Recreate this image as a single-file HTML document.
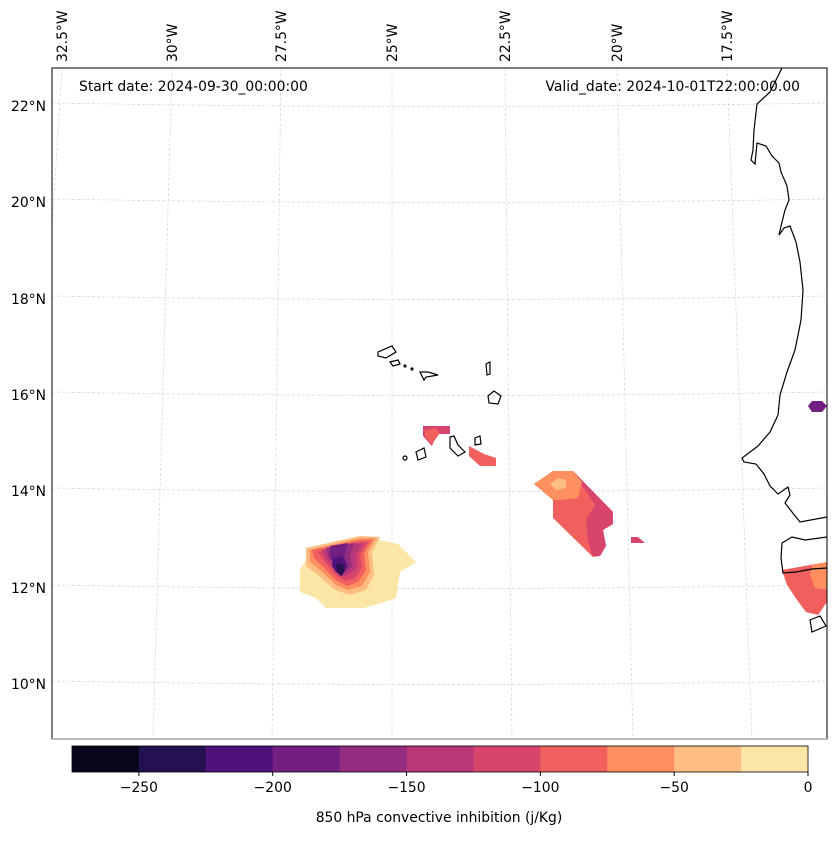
<!DOCTYPE html>
<html><head><meta charset="utf-8">
<style>
body{margin:0;background:#fff;}
svg text{font-family:"DejaVu Sans","Liberation Sans",sans-serif;}
</style></head>
<body>
<svg id="chart" width="837" height="836" viewBox="0 0 837 836" xmlns="http://www.w3.org/2000/svg">
<defs><clipPath id="mapclip"><rect x="52" y="68" width="775" height="671"/></clipPath></defs>
<rect width="837" height="836" fill="#fff"/>
<g id="grid" stroke="#d4d4d4" stroke-width="0.7" stroke-dasharray="3,2" fill="none" clip-path="url(#mapclip)"></g>
<g id="fills">
  <polygon fill="#fce6a6" points="306,548 360,536 398,544 416,562 400,572 396,598 378,604 364,608 326,608 316,598 300,592 300,570 306,560"/>
  <polygon fill="#febd82" points="306,548 360,536 380,537 372,552 374,575 366,590 350,595 335,590 318,575 306,566"/>
  <polygon fill="#fe8f5f" points="309,550 360,538 376,538 368,552 370,572 362,586 348,590 336,585 320,570 310,562"/>
  <polygon fill="#f1605d" points="312,550 360,540 372,540 364,553 366,570 358,582 347,586 336,580 322,566 314,558"/>
  <polygon fill="#d8456c" points="318,552 360,542 368,542 360,555 362,568 355,578 346,581 336,575 325,562"/>
  <polygon fill="#b73779" points="322,550 358,543 362,545 356,556 357,567 350,574 344,576 334,568 326,558"/>
  <polygon fill="#942c80" points="326,548 354,543 350,556 352,566 346,572 336,566 328,556"/>
  <polygon fill="#721f81" points="330,546 348,543 344,556 348,566 342,572 334,564 330,556"/>
  <polygon fill="#4f127b" points="333,558 342,556 347,566 342,576 336,572 332,566"/>
  <polygon fill="#231151" points="336,564 342,564 345,570 341,576 337,572"/>
  <polygon fill="#d8456c" points="423,426 450,426 450,434 437,434 432,446 423,436"/>
  <polygon fill="#f1605d" points="425,430 436,428 440,433 432,444 425,436"/>
  <polygon fill="#f1605d" points="469,446 484,454 496,458 496,466 480,466 469,456"/>
  <polygon fill="#f1605d" points="534,484 553,471 573,471 613,512 613,524 603,530 606,546 600,556 593,557 553,518 553,500"/>
  <polygon fill="#d8456c" points="573,471 613,512 613,524 603,530 606,546 600,556 592,556 588,540 586,520 595,505 580,482"/>
  <polygon fill="#fe8f5f" points="534,484 553,471 573,471 582,482 578,498 560,500 553,500"/>
  <polygon fill="#febd82" points="550,484 558,478 566,480 566,488 556,490"/>
  <polygon fill="#d8456c" points="631,537 638,537 645,543 631,543"/>
  <polygon fill="#721f81" points="808,406 812,401 822,401 827,406 822,412 812,412"/>
  <polygon fill="#f1605d" points="782,570 827,562 827,602 818,615 806,612 797,600 787,585"/>
  <polygon fill="#fe8f5f" points="812,565 827,562 827,590 815,588 810,575"/>
</g>
<g id="coast" fill="none" stroke="#000" stroke-width="1.2">
  <path d="M782,68 L770,92 L757,104 L754,130 L753,150 L751,160 L755,164 L757,143 L766,146 L772,156 L779,163 L781,172 L787,186 L789,200 L785,210 L782,222 L779,235 L784,228 L790,226 L796,242 L800,262 L803,290 L801,320 L795,350 L787,372 L780,395 L778,415 L770,432 L758,446 L742,458 L744,462 L756,464 L764,474 L770,486 L778,494 L788,487 L790,495 L785,503 L792,512 L800,522 L827,517"/>
  <path d="M827,537 L805,540 L792,537 L782,543 L781,558 L783,573 L796,572 L812,569 L827,568"/>
  <path d="M810,620 L820,616 L826,626 L812,632 Z"/>
  <path d="M378,352 L392,346 L396,352 L386,358 L378,356 Z"/>
  <path d="M390,362 L398,360 L400,364 L393,366 Z"/>
  <path d="M420,372 L428,372 L438,375 L426,377 L424,380 Z"/>
  <path d="M486,364 L490,362 L490,374 L487,375 Z"/>
  <path d="M488,396 L494,391 L501,396 L498,404 L489,403 Z"/>
  <path d="M450,437 L454,436 L458,445 L465,452 L458,456 L450,448 Z"/>
  <path d="M475,438 L480,436 L481,444 L475,445 Z"/>
  <path d="M416,452 L424,448 L426,457 L418,460 Z"/>
  <circle cx="405" cy="458" r="2"/>
  <circle cx="405" cy="366" r="1"/><circle cx="412" cy="369" r="1"/>
</g>
<rect x="52" y="68" width="775" height="671" fill="none" stroke="#000" stroke-width="1"/>
<rect x="52" y="738" width="775" height="2" fill="#bbb"/>
<text x="79" y="91" font-size="13.9">Start date: 2024-09-30_00:00:00</text>
<text x="800" y="91" font-size="13.9" text-anchor="end">Valid_date: 2024-10-01T22:00:00.00</text>
<g id="latlabels" font-size="13.9"></g>
<g id="lonlabels" font-size="13.9"></g>
<g id="cbar"></g>
<text x="439" y="822" font-size="13.9" text-anchor="middle">850 hPa convective inhibition (j/Kg)</text>
</svg>
<script>
const latLabels=['22°N','20°N','18°N','16°N','14°N','12°N','10°N'];
const latY=[106,202,299,395,491,588,684];
const lonLabels=['32.5°W','30°W','27.5°W','25°W','22.5°W','20°W','17.5°W'];
const lonTop=[62,172,281,392,505,617,727];
const lonBottom=[20,153,272,392,512,633,752];
const levels=[-275,-250,-225,-200,-175,-150,-125,-100,-75,-50,-25,0];
const tickVals=[-250,-200,-150,-100,-50,0];
const colors=['#07061c','#231151','#4f127b','#721f81','#942c80','#b73779','#d8456c','#f1605d','#fe8f5f','#febd82','#fce6a6'];
const NS='http://www.w3.org/2000/svg';
function mk(t,a,p){const e=document.createElementNS(NS,t);for(const k in a)e.setAttribute(k,a[k]);p.appendChild(e);return e;}
const grid=document.getElementById('grid');
latY.forEach((y,i)=>{const l=mk('path',{d:`M52,${y-3} Q440,${y+4} 827,${y-3}`},grid);


const t=mk('text',{x:46,y:y+5,'text-anchor':'end'},document.getElementById('latlabels'));t.textContent=latLabels[i];

});
lonTop.forEach((x,i)=>{const l=mk('line',{x1:x,y1:68,x2:lonBottom[i],y2:739},grid);


const t=mk('text',{x:0,y:0,transform:`translate(${x+5},62) rotate(-90)`},document.getElementById('lonlabels'));t.textContent=lonLabels[i];

});
const cb=document.getElementById('cbar');const cx0=72,cx1=808,cy=746,ch=26;
const sx=v=>cx0+(v-levels[0])/(levels[levels.length-1]-levels[0])*(cx1-cx0);
colors.forEach((c,i)=>{const r=mk('rect',{x:sx(levels[i]),y:cy,width:sx(levels[i+1])-sx(levels[i])+0.5,height:ch,fill:c},cb);

});
mk('rect',{x:cx0,y:cy,width:cx1-cx0,height:ch,fill:'none',stroke:'#000','stroke-width':0.8},cb);
tickVals.forEach(v=>{mk('line',{x1:sx(v),y1:cy+ch,x2:sx(v),y2:cy+ch+4,stroke:'#000'},cb);
const t=mk('text',{x:sx(v),y:cy+ch+20,'text-anchor':'middle','font-size':13.9},cb);t.textContent=v<0?'\u2212'+Math.abs(v):String(v);

});
</script>
</body></html>
